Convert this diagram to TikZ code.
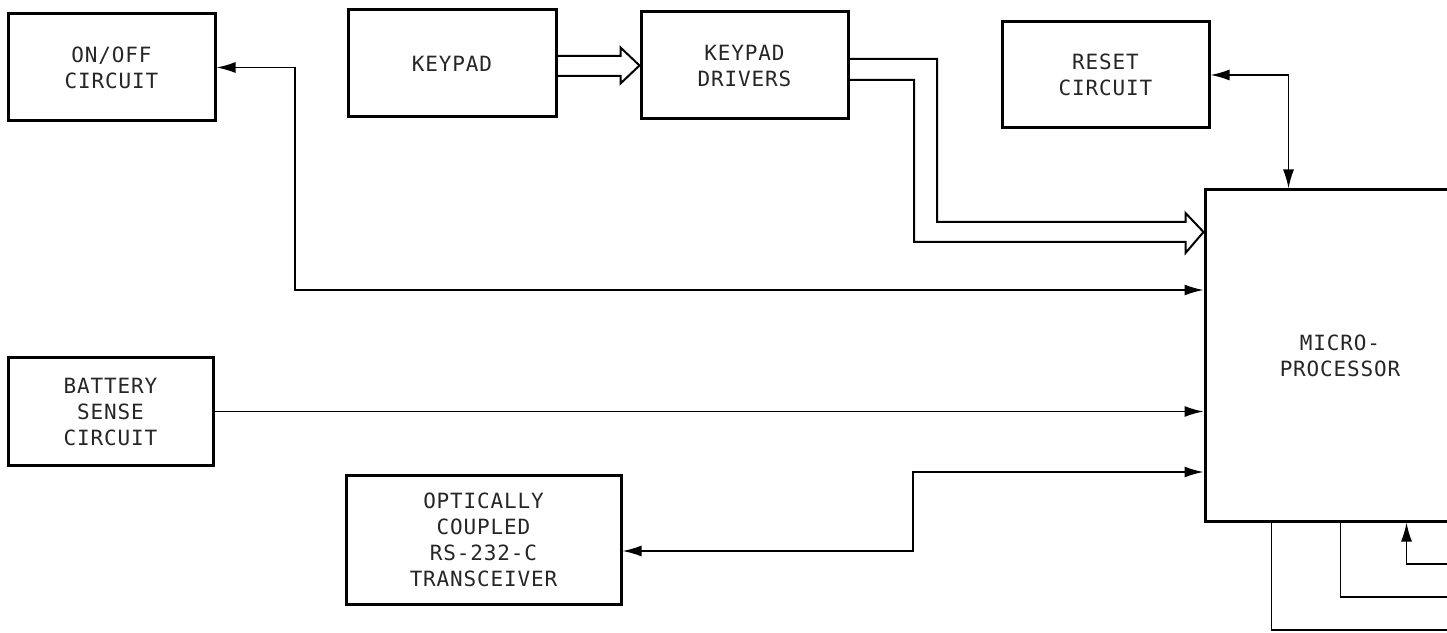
\documentclass[tikz,border=0pt]{standalone}
\usepackage{fontspec}
\newfontfamily\plotfont{DejaVu Sans Mono}[LetterSpace=4]
\usetikzlibrary{arrows.meta,calc}
\tikzset{
  blk/.style={draw=black, line width=3pt, inner sep=0pt, align=center,
    font=\plotfont\fontsize{21}{26}\selectfont, text=black!85},
  conn/.style={draw=black, line width=1.6pt},
  arr/.style={conn, -{Latex[length=19pt,width=11pt]}},
  biarr/.style={conn, {Latex[length=19pt,width=11pt]}-{Latex[length=19pt,width=11pt]}},
  hollow/.style={draw=black, line width=2pt, line join=miter},
}
\begin{document}
\begin{tikzpicture}[x=1pt,y=1pt]
\fill[white] (0,0) rectangle (1447,632);
\clip (0,0) rectangle (1447,632);
\node[blk, minimum width=207pt, minimum height=107pt] (onoff) at (111.5,564.5) {ON/OFF\\CIRCUIT};
\node[blk, minimum width=208pt, minimum height=107pt] (keypad) at (452,568.5) {KEYPAD};
\node[blk, minimum width=207pt, minimum height=107pt] (drivers) at (744.5,566.5) {KEYPAD\\DRIVERS};
\node[blk, minimum width=207pt, minimum height=106pt] (reset) at (1105.5,557) {RESET\\CIRCUIT};
\node[blk, minimum width=270pt, minimum height=331pt] (micro) at (1340,276.5) {MICRO-\\PROCESSOR};
\node[blk, minimum width=205pt, minimum height=107pt] (battery) at (110.5,220.5) {BATTERY\\SENSE\\CIRCUIT};
\node[blk, minimum width=275pt, minimum height=129pt] (optical) at (483.5,92.5) {OPTICALLY\\COUPLED\\RS-232-C\\TRANSCEIVER};
% keypad -> drivers (hollow bus arrow)
\draw[hollow] ($(keypad.east)+(0,7.5)$) -- ($(drivers.west)+(-19,9.5)$) -- ($(drivers.west)+(-19,18)$)
  -- (drivers.west) -- ($(drivers.west)+(-19,-18)$) -- ($(drivers.west)+(-19,-10.5)$) -- ($(keypad.east)+(0,-12.5)$);
% drivers -> micro (hollow bus arrow)
\draw[hollow] ($(drivers.east)+(0,6.5)$) -| (937,410) -- ($(micro.west)+(-18,133.5)$) -- ($(micro.west)+(-18,142.5)$)
  -- ($(micro.west)+(0,123.5)$) -- ($(micro.west)+(-18,102.5)$) -- ($(micro.west)+(-18,113.5)$)
  -| (914,552) -- ($(drivers.east)+(0,-14.5)$);
% on/off <-> micro
\draw[biarr] (onoff.east) -| (295,342) -- ($(micro.west)+(0,65.5)$);
% reset <-> micro
\draw[biarr] (reset.east) -| ($(micro.north west)+(85,0)$);
% battery -> micro
\draw[arr] (battery.east) -- (battery.east -| micro.west);
% optical <-> micro
\draw[biarr] ($(micro.west)+(0,-116.5)$) -| (913,81) -- ($(optical.east)+(0,-11.5)$);
% lines leaving the bottom of the microprocessor
\coordinate (e1) at (1460,2);
\coordinate (e2) at (1460,35);
\coordinate (e3) at (1460,68);
\draw[conn] ($(micro.south west)+(68,0)$) |- (e1);
\draw[conn] ($(micro.south west)+(137,0)$) |- (e2);
\draw[arr] (e3) -| ($(micro.south west)+(203,0)$);
\end{tikzpicture}
\end{document}
